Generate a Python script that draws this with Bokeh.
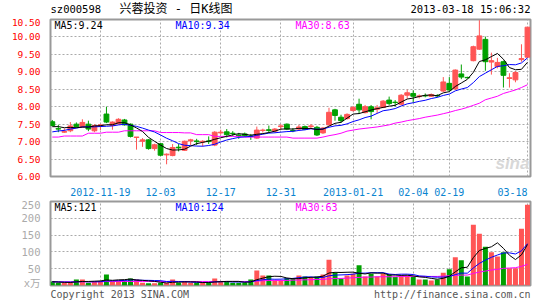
from bokeh.plotting import figure
from bokeh.models import ColumnDataSource, FixedTicker, Label, Range1d
from bokeh.layouts import column
from bokeh.core.properties import value
from bokeh.embed import file_html
from bokeh.resources import INLINE

# ---------------- data ----------------
opens = [7.57, 7.37, 7.27, 7.31, 7.50, 7.42, 7.50, 7.31, 7.45, 7.79,
         7.46, 7.51, 7.62, 7.50, 7.12, 7.01, 7.05, 6.80, 6.94, 6.62,
         6.60, 6.84, 6.75, 7.02, 7.02, 6.99, 7.02, 6.90, 7.25, 7.28,
         7.24, 7.19, 7.22, 7.16, 7.10, 7.32, 7.34, 7.30, 7.43, 7.50,
         7.32, 7.36, 7.43, 7.43, 7.41, 7.25, 7.48, 7.91, 7.70, 7.66,
         7.89, 8.07, 7.83, 8.00, 7.93, 7.98, 8.19, 8.13, 8.07, 8.33,
         8.38, 8.29, 8.32, 8.30, 8.32, 8.45, 8.67, 8.51, 8.94, 8.84,
         9.32, 9.65, 9.93, 9.28, 9.15, 9.29, 8.81, 8.77, 9.35, 9.42]
highs = [7.62, 7.48, 7.38, 7.56, 7.55, 7.64, 7.60, 7.50, 7.50, 8.00,
         7.58, 7.67, 7.65, 7.52, 7.13, 7.10, 7.07, 6.94, 6.96, 6.66,
         6.93, 6.93, 7.03, 7.08, 7.08, 7.04, 7.15, 7.30, 7.34, 7.36,
         7.30, 7.25, 7.26, 7.22, 7.43, 7.37, 7.46, 7.39, 7.50, 7.52,
         7.39, 7.48, 7.46, 7.50, 7.45, 7.42, 7.97, 7.94, 7.77, 7.81,
         8.02, 8.23, 8.05, 8.05, 8.05, 8.19, 8.29, 8.19, 8.36, 8.49,
         8.47, 8.35, 8.38, 8.38, 8.36, 8.85, 8.85, 9.07, 9.21, 8.86,
         9.75, 10.48, 10.01, 9.55, 9.40, 9.32, 8.96, 9.02, 9.79, 10.28]
lows = [7.44, 7.27, 7.25, 7.27, 7.40, 7.40, 7.30, 7.27, 7.33, 7.53,
        7.34, 7.49, 7.46, 7.12, 6.77, 6.85, 6.77, 6.74, 6.58, 6.35,
        6.58, 6.72, 6.73, 6.90, 6.90, 6.86, 6.93, 6.87, 7.20, 7.12,
        7.16, 7.08, 7.14, 7.05, 7.08, 7.26, 7.25, 7.26, 7.34, 7.33,
        7.27, 7.33, 7.33, 7.37, 7.16, 7.22, 7.46, 7.60, 7.54, 7.63,
        7.86, 7.79, 7.81, 7.64, 7.81, 7.96, 8.04, 8.01, 8.04, 8.23,
        8.12, 8.24, 8.27, 8.28, 8.27, 8.42, 8.45, 8.49, 8.79, 8.81,
        9.30, 9.63, 9.03, 8.92, 9.10, 8.55, 8.55, 8.70, 9.29, 9.40]
closes = [7.46, 7.36, 7.29, 7.45, 7.43, 7.55, 7.36, 7.46, 7.48, 7.56,
          7.56, 7.64, 7.48, 7.15, 7.13, 7.05, 6.80, 6.91, 6.61, 6.64,
          6.83, 6.82, 7.01, 7.05, 7.00, 7.01, 7.00, 7.27, 7.27, 7.20,
          7.23, 7.17, 7.17, 7.15, 7.33, 7.33, 7.32, 7.36, 7.45, 7.36,
          7.31, 7.42, 7.35, 7.45, 7.19, 7.39, 7.84, 7.75, 7.60, 7.78,
          7.98, 7.91, 8.00, 7.86, 7.97, 8.16, 8.09, 8.12, 8.33, 8.40,
          8.30, 8.31, 8.31, 8.35, 8.31, 8.71, 8.48, 9.05, 8.85, 8.83,
          9.72, 10.03, 9.29, 9.32, 9.27, 8.90, 8.83, 8.98, 9.38, 10.28]
volumes = [12, 8, 8, 8, 18, 18, 8, 12, 12, 33,
           12, 15, 15, 21, 18, 8, 7, 7, 8, 8,
           18, 8, 12, 8, 8, 8, 8, 21, 12, 12,
           8, 8, 8, 18, 45, 30, 30, 15, 15, 22,
           20, 30, 27, 22, 27, 33, 77, 37, 20, 30,
           35, 60, 27, 35, 27, 35, 33, 25, 30, 30,
           25, 18, 18, 15, 18, 38, 48, 84, 75, 27,
           181, 154, 115, 99, 86, 99, 51, 51, 169, 240]
# closes / volumes of the 9 sessions before the window (for the moving averages)
prior_closes = [7.10, 7.12, 7.08, 7.15, 7.20, 7.35, 7.45, 7.40, 7.48]
prior_volumes = [10, 12, 9, 11, 10, 14, 12, 10, 9]
# 30-day averages
ma30_price = [7.13, 7.13, 7.16, 7.16, 7.16, 7.16, 7.24, 7.24, 7.24, 7.27,
              7.27, 7.27, 7.31, 7.31, 7.31, 7.31, 7.31, 7.31, 7.26, 7.26,
              7.26, 7.26, 7.25, 7.25, 7.20, 7.20, 7.20, 7.15, 7.15, 7.15,
              7.15, 7.15, 7.13, 7.13, 7.13, 7.13, 7.13, 7.13, 7.13, 7.13,
              7.10, 7.10, 7.10, 7.10, 7.10, 7.13, 7.17, 7.20, 7.24, 7.30,
              7.33, 7.36, 7.38, 7.40, 7.42, 7.45, 7.48, 7.53, 7.56, 7.60,
              7.63, 7.66, 7.70, 7.73, 7.76, 7.80, 7.84, 7.89, 7.93, 7.98,
              8.04, 8.10, 8.20, 8.25, 8.30, 8.38, 8.43, 8.48, 8.55, 8.63]
ma30_vol = [11, 11, 11, 11, 11, 11, 11, 11, 11, 12,
            12, 12, 12, 12, 12, 12, 12, 12, 12, 12,
            12, 12, 12, 12, 12, 12, 12, 12, 12, 12,
            12, 12, 12, 12, 13, 14, 15, 15, 15, 15,
            16, 16, 17, 17, 18, 18, 20, 21, 21, 22,
            23, 24, 25, 25, 26, 26, 26, 26, 27, 27,
            27, 27, 27, 27, 27, 28, 29, 30, 31, 31,
            36, 40, 43, 46, 48, 51, 52, 53, 57, 63]

date_tick_idx = [8, 18, 28, 38, 50, 60, 66, 79]
date_labels = ["2012-11-19", "12-03", "12-17", "12-31", "2013-01-21", "02-04", "02-19", "03-18"]
price_ticks = [6.0, 6.5, 7.0, 7.5, 8.0, 8.5, 9.0, 9.5, 10.0, 10.5]
vol_ticks = [0, 50, 100, 150, 200, 250]

RED = "#ff5555"
GREEN = "#00a000"
MONO = "DejaVu Sans Mono"
W = 545
LEFT, RIGHT = 50, 15


def moving_avg(series, prior, n):
    full = list(prior) + list(series)
    k = len(prior)
    return [sum(full[k + i - n + 1:k + i + 1]) / n for i in range(len(series))]


idx = list(range(len(closes)))
colors = [RED if c >= o else GREEN for o, c in zip(opens, closes)]
src = ColumnDataSource(dict(
    x=idx, o=opens, h=highs, l=lows, c=closes,
    top=[max(o, c) for o, c in zip(opens, closes)],
    bot=[min(o, c) for o, c in zip(opens, closes)],
    color=colors, vol=volumes,
    ma5=moving_avg(closes, prior_closes, 5),
    ma10=moving_avg(closes, prior_closes, 10),
    ma30=ma30_price,
    vma5=moving_avg(volumes, prior_volumes, 5),
    vma10=moving_avg(volumes, prior_volumes, 10),
    vma30=ma30_vol,
))

XR = Range1d(-0.3, 79.5)


def strip(height):
    """Plain text strip (header / footer); x in page pixels, frame spans 50..530."""
    f = figure(width=W, height=height, x_range=Range1d(LEFT, W - RIGHT), y_range=Range1d(height, 0),
               output_backend="svg", toolbar_location=None,
               min_border_left=LEFT, min_border_right=RIGHT, min_border_top=0, min_border_bottom=0)
    f.axis.visible = False
    f.grid.visible = False
    f.outline_line_color = None
    f.background_fill_color = "white"
    f.border_fill_color = "white"
    return f


def style_axis(ax, color, size):
    ax.major_label_text_color = color
    ax.major_label_text_font = MONO
    ax.major_label_text_font_size = size
    ax.axis_line_color = None
    ax.major_tick_line_color = None
    ax.minor_tick_line_color = None


def style_grid(p, yticks):
    p.xgrid.ticker = FixedTicker(ticks=date_tick_idx)
    p.ygrid.ticker = FixedTicker(ticks=yticks)
    for g in (p.xgrid, p.ygrid):
        g.grid_line_color = "#aaaaaa"
        g.grid_line_dash = "2 2"
        g.grid_line_width = 1


def lab(p, x, y, text, color, size="10px", font=MONO, align="left"):
    p.add_layout(Label(x=x, y=y, x_units="screen", y_units="screen", text=text,
                       text_color=color, text_font=font, text_font_size=size,
                       text_align=align, text_baseline="middle"))


# ---------------- header ----------------
head = strip(18)
head.text(x=[50], y=[8], text=["sz000598"], text_font=value(MONO), text_font_size="10.5px",
          text_color="#000000", text_baseline="middle", text_align="left")
head.text(x=[119], y=[8], text=["兴蓉投资 - 日K线图"],
          text_font=value("DejaVu Sans Mono, Noto Sans CJK SC"), text_font_size="12px",
          text_color="#000000", text_baseline="middle", text_align="left")
head.text(x=[530], y=[8], text=["2013-03-18 15:06:32"], text_font=value(MONO),
          text_font_size="10.5px", text_color="#000000", text_baseline="middle", text_align="right")

# ---------------- price panel ----------------
p1 = figure(width=W, height=180, x_range=XR, y_range=Range1d(6.0, 10.5),
            output_backend="svg", toolbar_location=None,
            min_border_left=LEFT, min_border_right=RIGHT, min_border_top=1, min_border_bottom=21)
p1.background_fill_color = "white"
p1.border_fill_color = "white"
p1.outline_line_color = "#999999"
p1.outline_line_width = 2

p1.yaxis.ticker = FixedTicker(ticks=price_ticks)
p1.yaxis.major_label_overrides = {t: "%.2f" % t for t in price_ticks}
style_axis(p1.yaxis, "#ff0000", "9.5px")
p1.yaxis.major_label_standoff = 4

label_pos = date_tick_idx[:-1] + [date_tick_idx[-1] - 2.5]
p1.xaxis.ticker = FixedTicker(ticks=label_pos)
p1.xaxis.major_label_overrides = {t: s for t, s in zip(label_pos, date_labels)}
style_axis(p1.xaxis, "#0a84d0", "10px")
p1.xaxis.major_label_standoff = 5

style_grid(p1, price_ticks[1:-1])

p1.text(x=[76.5], y=[6.38], text=["sina"], text_color="#d8d8d8",
        text_font=value("Liberation Sans"), text_font_style="bold italic",
        text_font_size="17px", text_align="center", text_baseline="middle")

p1.segment(x0="x", y0="l", x1="x", y1="h", color="color", line_width=1, source=src)
p1.vbar(x="x", width=0.8, top="top", bottom="bot", fill_color="color",
        line_color="color", line_width=1, source=src)
p1.line("x", "ma30", color="#ff00ff", line_width=1, source=src)
p1.line("x", "ma10", color="#0000ff", line_width=1, source=src)
p1.line("x", "ma5", color="#000000", line_width=1, source=src)

lab(p1, 4, 151, "MA5:%.2f" % 9.24, "#000000")
lab(p1, 125, 151, "MA10:%.2f" % 9.34, "#0000ff")
lab(p1, 245, 151, "MA30:%.2f" % 8.63, "#ff00ff")

# ---------------- volume panel ----------------
p2 = figure(width=W, height=90, x_range=XR, y_range=Range1d(0, 250),
            output_backend="svg", toolbar_location=None,
            min_border_left=LEFT, min_border_right=RIGHT, min_border_top=3, min_border_bottom=3)
p2.background_fill_color = "white"
p2.border_fill_color = "white"
p2.outline_line_color = "#999999"
p2.outline_line_width = 2

unit_tick = 7  # the unit label sits just above the zero line
p2.yaxis.ticker = FixedTicker(ticks=[unit_tick] + vol_ticks[1:])
overrides = {t: str(t) for t in vol_ticks[1:]}
overrides[unit_tick] = "x万"
p2.yaxis.major_label_overrides = overrides
style_axis(p2.yaxis, "#aaaaaa", "10.5px")
p2.yaxis.major_label_text_font = "DejaVu Sans Mono, Noto Sans CJK SC"
p2.yaxis.major_label_standoff = 4
p2.xaxis.visible = False

style_grid(p2, vol_ticks[1:-1])

p2.vbar(x="x", width=0.83, top="vol", bottom=0, fill_color="color",
        line_color=None, source=src)
p2.line("x", "vma30", color="#ff00ff", line_width=1, source=src)
p2.line("x", "vma10", color="#0000ff", line_width=1, source=src)
p2.line("x", "vma5", color="#000000", line_width=1, source=src)

lab(p2, 4, 78, "MA5:%d" % 121, "#000000")
lab(p2, 125, 78, "MA10:%d" % 124, "#0000ff")
lab(p2, 245, 78, "MA30:%d" % 63, "#ff00ff")

# ---------------- footer ----------------
foot = strip(12)
foot.text(x=[50], y=[6], text=["Copyright 2013 SINA.COM"], text_font=value(MONO),
          text_font_size="10px", text_color="#555555", text_baseline="middle", text_align="left")
foot.text(x=[530], y=[6], text=["http://finance.sina.com.cn"], text_font=value(MONO),
          text_font_size="10px", text_color="#555555", text_baseline="middle", text_align="right")

layout = column(head, p1, p2, foot, spacing=0)
open("out.html", "w").write(file_html(layout, INLINE))
